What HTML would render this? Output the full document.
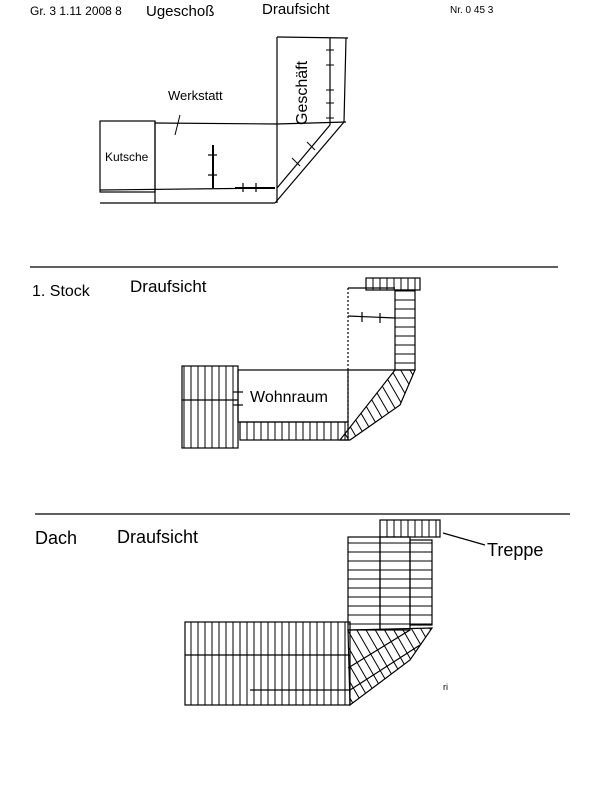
<!DOCTYPE html>
<html><head><meta charset="utf-8"><style>
html,body{margin:0;padding:0;background:#fff;width:608px;height:800px;overflow:hidden}
svg{display:block}
text{font-family:"Liberation Sans",sans-serif;fill:#000}
</style></head><body>
<svg width="608" height="800" viewBox="0 0 608 800" xmlns="http://www.w3.org/2000/svg">
<defs>
<pattern id="v" width="7" height="10" patternUnits="userSpaceOnUse"><line x1="2" y1="0" x2="2" y2="10" stroke="#000" stroke-width="1"/></pattern>
<pattern id="h" width="10" height="9" patternUnits="userSpaceOnUse"><line x1="0" y1="3" x2="10" y2="3" stroke="#000" stroke-width="1"/></pattern>
<pattern id="d" width="8" height="8" patternUnits="userSpaceOnUse" patternTransform="rotate(-30)"><line x1="2" y1="0" x2="2" y2="8" stroke="#000" stroke-width="1"/></pattern>
</defs>
<g stroke="#000" fill="none" stroke-width="1.2">
<text x="30" y="15" font-size="12" stroke="none">Gr. 3 1.11 2008 8</text>
<text x="146" y="16" font-size="15" stroke="none">Ugeschoß</text>
<text x="262" y="14" font-size="15" stroke="none">Draufsicht</text>
<text x="450" y="13" font-size="10" stroke="none">Nr. 0 45  3</text>
<rect x="100" y="121" width="55" height="71"/>
<line x1="155" y1="123" x2="277" y2="124"/>
<line x1="100" y1="203" x2="275" y2="203"/>
<line x1="100" y1="190" x2="275" y2="188"/>
<line x1="155" y1="121" x2="155" y2="203"/>
<line x1="213" y1="145" x2="213" y2="188" stroke-width="2"/>
<line x1="208" y1="155" x2="217" y2="155"/><line x1="208" y1="175" x2="217" y2="175"/>
<line x1="235" y1="188" x2="275" y2="188" stroke-width="2"/>
<line x1="243" y1="183" x2="243" y2="192"/><line x1="256" y1="183" x2="256" y2="192"/>
<line x1="277" y1="37" x2="277" y2="203"/>
<line x1="277" y1="37" x2="348" y2="38"/>
<line x1="330" y1="38" x2="330" y2="125"/>
<line x1="346" y1="38" x2="344" y2="122"/>
<line x1="277" y1="124" x2="346" y2="122"/>
<line x1="330" y1="125" x2="277" y2="188"/>
<line x1="344" y1="122" x2="275" y2="203"/>
<g stroke-width="1"><line x1="326" y1="50" x2="334" y2="50"/><line x1="326" y1="65" x2="334" y2="65"/><line x1="326" y1="90" x2="334" y2="90"/><line x1="326" y1="103" x2="334" y2="103"/><line x1="326" y1="118" x2="334" y2="118"/>
<line x1="292" y1="158" x2="300" y2="166"/><line x1="307" y1="142" x2="315" y2="150"/></g>
<line x1="180" y1="115" x2="175" y2="135" stroke-width="1"/>
<text x="168" y="100" font-size="13" stroke="none">Werkstatt</text>
<text x="105" y="161" font-size="12" stroke="none">Kutsche</text>
<text transform="translate(307,125) rotate(-90)" font-size="16" stroke="none">Geschäft</text>
<line x1="30" y1="267" x2="558" y2="267"/>
<text x="32" y="296" font-size="16" stroke="none">1. Stock</text>
<text x="130" y="292" font-size="17" stroke="none">Draufsicht</text>
<rect x="182" y="366" width="56" height="82" fill="url(#v)"/>
<line x1="182" y1="400" x2="238" y2="400"/>
<rect x="238" y="370" width="110" height="52"/>
<rect x="240" y="422" width="108" height="18" fill="url(#v)"/>
<line x1="348" y1="288" x2="348" y2="440" stroke-dasharray="2 2"/>
<line x1="348" y1="288" x2="395" y2="288"/>
<line x1="348" y1="316" x2="395" y2="318"/>
<line x1="362" y1="312" x2="362" y2="322"/><line x1="380" y1="313" x2="380" y2="323"/>
<rect x="395" y="290" width="20" height="80" fill="url(#h)"/>
<rect x="366" y="278" width="54" height="12" fill="url(#v)"/>
<polygon points="395,370 415,370 400,405 350,440 340,440" fill="url(#d)"/>
<line x1="348" y1="370" x2="395" y2="370"/>
<text x="250" y="402" font-size="16" stroke="none">Wohnraum</text>
<line x1="233" y1="392" x2="243" y2="392"/><line x1="233" y1="405" x2="243" y2="405"/>
<line x1="35" y1="514" x2="570" y2="514"/>
<text x="35" y="544" font-size="18" stroke="none">Dach</text>
<text x="117" y="543" font-size="18" stroke="none">Draufsicht</text>
<text x="487" y="556" font-size="18" stroke="none">Treppe</text>
<line x1="443" y1="533" x2="485" y2="545"/>
<rect x="380" y="520" width="60" height="17" fill="url(#v)"/>
<rect x="348" y="537" width="32" height="93" fill="url(#h)"/>
<rect x="380" y="537" width="30" height="93" fill="url(#h)"/>
<rect x="410" y="540" width="22" height="85" fill="url(#h)"/>
<rect x="185" y="622" width="165" height="83" fill="url(#v)"/>
<line x1="185" y1="655" x2="350" y2="655"/>
<line x1="250" y1="690" x2="350" y2="690"/>
<polygon points="348,630 432,628 410,660 350,705" fill="url(#d)"/>
<line x1="348" y1="668" x2="410" y2="630"/>
<line x1="350" y1="690" x2="420" y2="645"/>
<text x="443" y="690" font-size="9" stroke="none">ri</text>
</g>
</svg>
</body></html>
